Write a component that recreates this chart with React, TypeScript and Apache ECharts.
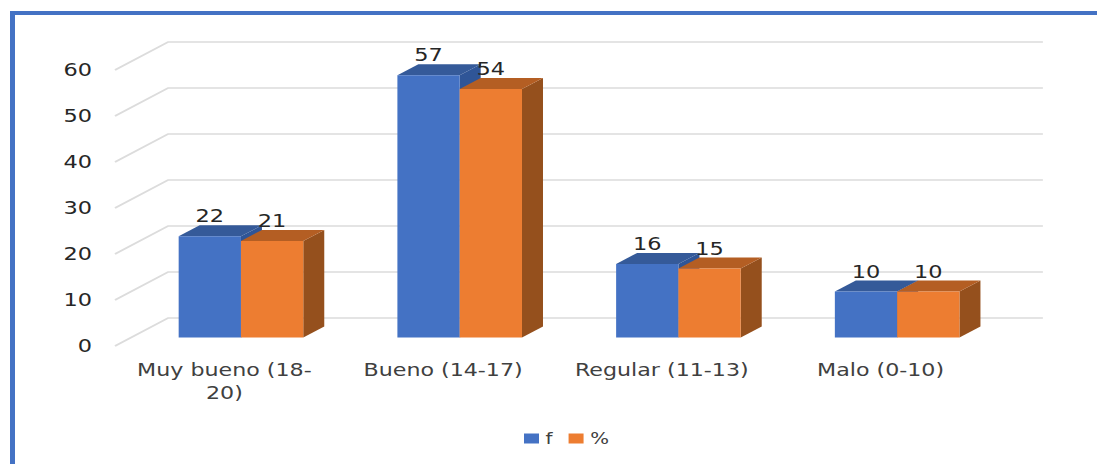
import React, { useEffect, useRef } from "react";
import * as echarts from "echarts";

const categories = ["Muy bueno (18-20)", "Bueno (14-17)", "Regular (11-13)", "Malo (0-10)"];
const fValues = [22, 57, 16, 10];
const pctValues = [21, 54, 15, 10];
const yTicks = [0, 10, 20, 30, 40, 50, 60];

const BLUE = { front: "#4472C4", top: "#355A99", side: "#2F5597" };
const ORANGE = { front: "#ED7D31", top: "#B45E23", side: "#95501D" };
const FONT = "DejaVu Sans";

// The reference is a horizontally stretched picture: the chart is laid out
// narrower and widened with a CSS transform so that its glyphs are wide too.
const SX = 1.32;
const W = 1097;
const H = 464;
const sx = (v: number) => v / SX;

const wallDx = sx(53);
const wallDy = -28;
const barInsetDx = sx(16.6);
const barInsetDy = -8.5;
const barDepthDx = sx(21);
const barDepthDy = -11;
const barWidth = sx(62.3);

function gridRender(params: any, api: any) {
  const v = api.value(0);
  const [, y] = api.coord([0, v]);
  const cs = params.coordSys;
  return {
    type: "polyline",
    shape: {
      points: [
        [cs.x, y],
        [cs.x + wallDx, y + wallDy],
        [cs.x + cs.width + wallDx, y + wallDy],
      ],
    },
    style: { stroke: "#DCDCDC", lineWidth: 1.6, fill: "none" },
    silent: true,
  };
}

function barRender(offset: number, colors: typeof BLUE) {
  return (_params: any, api: any) => {
    const idx = api.value(0);
    const val = api.value(1);
    const top = api.coord([idx, val]);
    const base = api.coord([idx, 0]);
    const x0 = top[0] + barInsetDx + offset * barWidth;
    const x1 = x0 + barWidth;
    const yTop = top[1] + barInsetDy;
    const yBase = base[1] + barInsetDy;
    const dx = barDepthDx;
    const dy = barDepthDy;
    return {
      type: "group",
      children: [
        {
          type: "polygon",
          shape: { points: [[x1, yTop], [x1 + dx, yTop + dy], [x1 + dx, yBase + dy], [x1, yBase]] },
          style: { fill: colors.side },
        },
        {
          type: "polygon",
          shape: { points: [[x0, yTop], [x0 + dx, yTop + dy], [x1 + dx, yTop + dy], [x1, yTop]] },
          style: { fill: colors.top },
        },
        {
          type: "rect",
          shape: { x: x0, y: yTop, width: barWidth, height: yBase - yTop },
          style: { fill: colors.front },
        },
        {
          type: "text",
          z2: 10,
          style: {
            text: String(val),
            x: (x0 + x1) / 2,
            y: yTop - 19.5,
            align: "center",
            verticalAlign: "middle",
            fill: "#262626",
            font: `17px "${FONT}"`,
          },
        },
      ],
    };
  };
}

export default function App() {
  const ref = useRef<HTMLDivElement>(null);
  useEffect(() => {
    document.body.style.margin = "0";
    const chart = echarts.init(ref.current!, undefined, { renderer: "svg" });
    chart.setOption({
      animation: false,
      backgroundColor: "#FFFFFF",
      grid: { left: sx(115), right: sx(107), top: 70, bottom: 118 },
      legend: {
        show: true,
        left: sx(524),
        top: 431,
        padding: 0,
        icon: "rect",
        itemWidth: sx(15),
        itemHeight: 10,
        itemGap: sx(16),
        textStyle: { color: "#404040", fontFamily: FONT, fontSize: 15, padding: [0, 0, 0, 0] },
        data: ["f", "%"],
      },
      xAxis: {
        type: "category",
        data: categories,
        axisLine: { show: false },
        axisTick: { show: false },
        axisLabel: {
          color: "#404040",
          fontFamily: FONT,
          fontSize: 16.8,
          lineHeight: 23,
          margin: 13,
          interval: 0,
          formatter: (v: string) => v.replace("(18-", "(18-\n"),
        },
      },
      yAxis: {
        type: "value",
        min: 0,
        max: 60,
        interval: 10,
        axisLine: { show: false },
        axisTick: { show: false },
        splitLine: { show: false },
        axisLabel: { color: "#262626", fontFamily: FONT, fontSize: 17, margin: sx(23) },
      },
      graphic: [
        { type: "rect", shape: { x: sx(10), y: 11, width: sx(1087), height: 4 }, style: { fill: "#4472C4" } },
        { type: "rect", shape: { x: sx(10), y: 11, width: sx(5), height: 453 }, style: { fill: "#4472C4" } },
      ],
      series: [
        {
          type: "custom",
          name: "grid",
          silent: true,
          clip: false,
          renderItem: gridRender,
          encode: { y: 0 },
          data: yTicks.map((t) => [t]),
          z: 1,
        },
        {
          type: "custom",
          name: "f",
          clip: false,
          itemStyle: { color: BLUE.front },
          renderItem: barRender(-1, BLUE),
          encode: { x: 0, y: 1 },
          data: fValues.map((v, i) => [i, v]),
          z: 2,
        },
        {
          type: "custom",
          name: "%",
          clip: false,
          itemStyle: { color: ORANGE.front },
          renderItem: barRender(0, ORANGE),
          encode: { x: 0, y: 1 },
          data: pctValues.map((v, i) => [i, v]),
          z: 3,
        },
      ],
    });
    return () => chart.dispose();
  }, []);
  return (
    <div style={{ width: W, height: H, overflow: "hidden" }}>
      <div
        ref={ref}
        style={{ width: W / SX, height: H, transform: `scaleX(${SX})`, transformOrigin: "0 0" }}
      />
    </div>
  );
}
